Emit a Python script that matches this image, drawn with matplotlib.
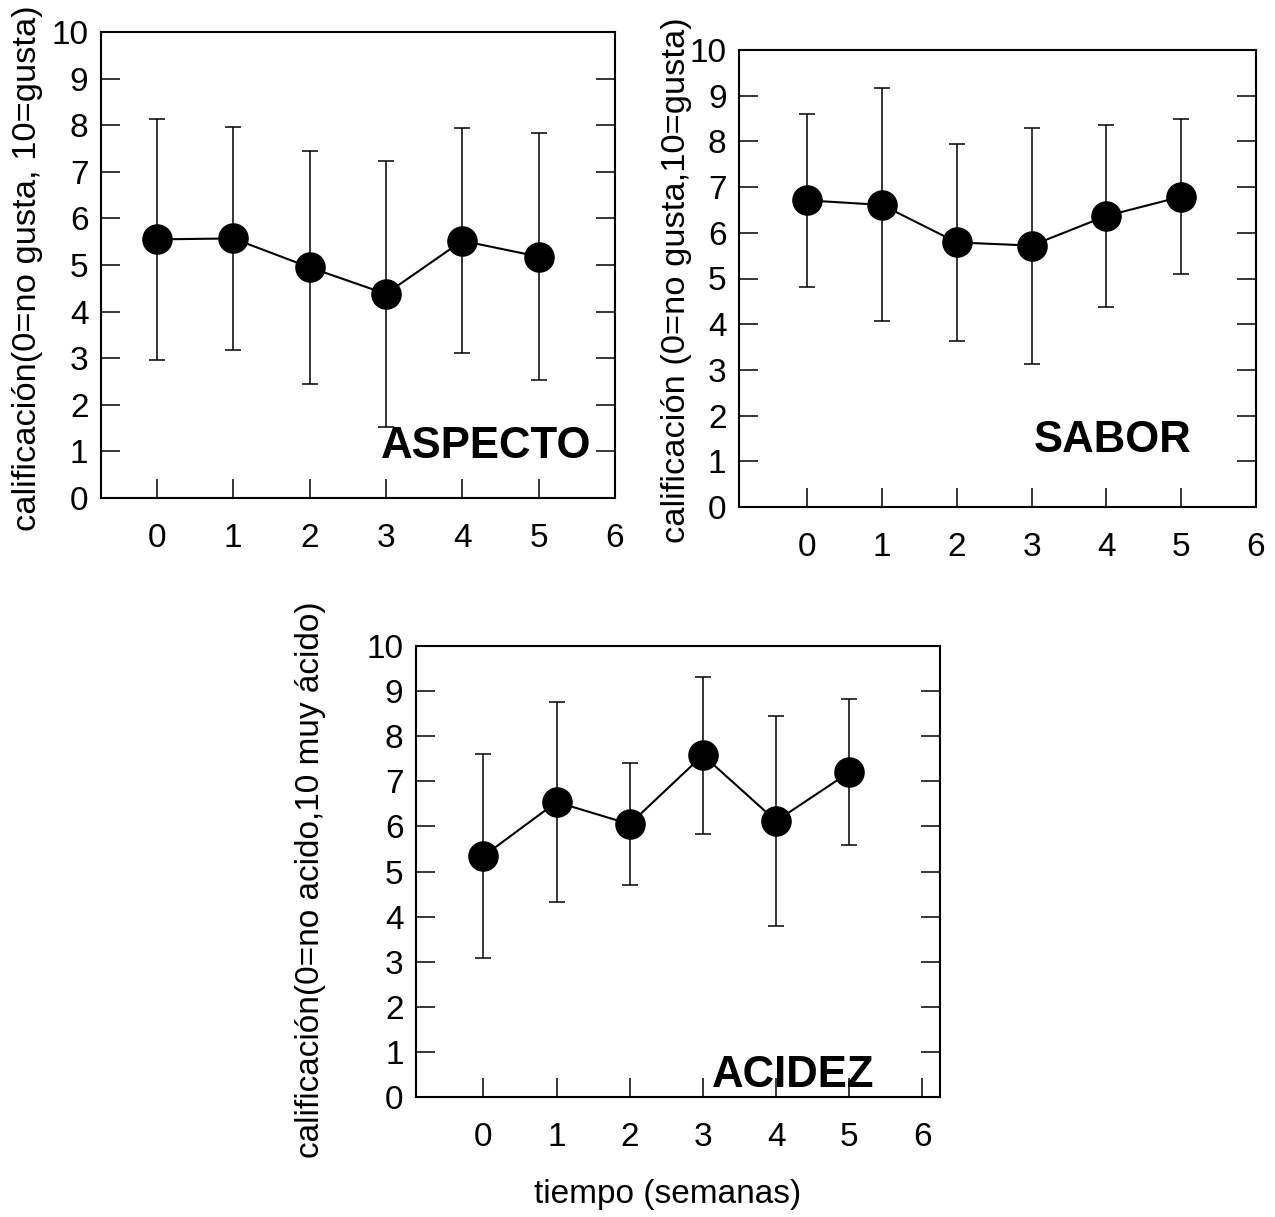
import matplotlib
matplotlib.use("Agg")
import matplotlib.pyplot as plt
import numpy as np

plt.rcParams['font.family'] = ['Liberation Sans', 'DejaVu Sans']

semanas = [0, 1, 2, 3, 4, 5]
x_ticks = [0, 1, 2, 3, 4, 5, 6]
y_ticks = [0, 1, 2, 3, 4, 5, 6, 7, 8, 9, 10]

aspecto_media = [5.55, 5.57, 4.95, 4.38, 5.52, 5.18]
aspecto_de = [2.58, 2.40, 2.50, 2.85, 2.41, 2.65]

sabor_media = [6.71, 6.61, 5.79, 5.72, 6.37, 6.79]
sabor_de = [1.89, 2.55, 2.15, 2.58, 1.99, 1.70]

acidez_media = [5.34, 6.54, 6.05, 7.58, 6.12, 7.20]
acidez_de = [2.26, 2.21, 1.35, 1.74, 2.32, 1.62]

W, H = 1275, 1217
fig = plt.figure(figsize=(W / 100, H / 100), dpi=100)

FS = 24
FSL = 24.8

def px_axes(l, t, r, b):
    return [l / W, 1 - b / H, (r - l) / W, (b - t) / H]

panels = [
    dict(rect=px_axes(101, 32, 615, 498), xlim=(-0.73, 6.0), media=aspecto_media, de=aspecto_de,
         title="ASPECTO", tpos=(4.31, 0.86)),
    dict(rect=px_axes(739, 50, 1256, 507), xlim=(-0.91, 6.0), media=sabor_media, de=sabor_de,
         title="SABOR", tpos=(4.09, 1.20)),
    dict(rect=px_axes(416, 646, 940, 1097), xlim=(-0.92, 6.24), media=acidez_media, de=acidez_de,
         title="ACIDEZ", tpos=(4.24, 0.22)),
]

axes = []
for p in panels:
    ax = fig.add_axes(p['rect'])
    ax.errorbar(semanas, p['media'], yerr=p['de'], fmt='none', ecolor='black',
                elinewidth=1.1, capsize=6, capthick=1.1, zorder=2)
    ax.plot(semanas, p['media'], color='black', lw=1.5, marker='o', markersize=21,
            markerfacecolor='black', markeredgecolor='black', zorder=3)
    ax.set_xlim(*p['xlim'])
    ax.set_ylim(0, 10)
    ax.set_xticks(x_ticks)
    ax.set_yticks(y_ticks)
    ax.tick_params(axis='both', direction='in', length=13.5, width=1.1, labelsize=FS,
                   color='black')
    ax.tick_params(axis='y', right=True, pad=9)
    ax.tick_params(axis='x', pad=18)
    for s in ax.spines.values():
        s.set_linewidth(1.5)
    ax.text(p['tpos'][0], p['tpos'][1], p['title'], fontsize=31.5, fontweight='bold',
            ha='center', va='baseline')
    axes.append(ax)

fig.text(28 / W, 1 - 268 / H, "calificación(0=no gusta, 10=gusta)", rotation=90,
         ha='center', va='center', fontsize=FSL)
fig.text(676 / W, 1 - 280 / H, "calificación (0=no gusta,10=gusta)", rotation=90,
         ha='center', va='center', fontsize=FSL)
fig.text(311 / W, 1 - 880 / H, "calificación(0=no acido,10 muy ácido)", rotation=90,
         ha='center', va='center', fontsize=FS)
fig.text(668 / W, 1 - 1195 / H, "tiempo (semanas)", ha='center', va='center', fontsize=FS)

fig.savefig("out.png", dpi=100)
